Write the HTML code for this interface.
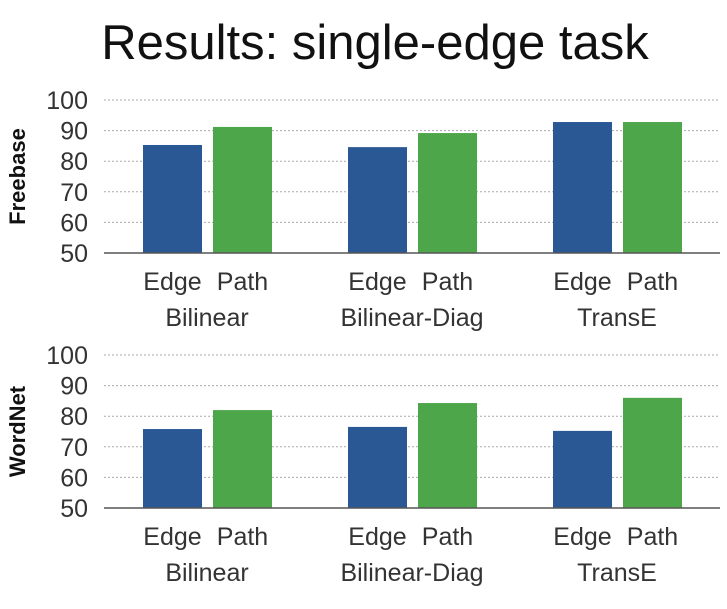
<!DOCTYPE html>
<html><head><meta charset="utf-8"><style>
body{margin:0;background:#fff;width:727px;height:604px;overflow:hidden}
svg text{font-family:"Liberation Sans",sans-serif}
</style></head><body>
<svg width="727" height="604">
<text x="375" y="59" font-size="49" text-anchor="middle" fill="#111">Results: single-edge task</text>
<g id="root"></g>
</svg>
<script>
const groups = ["Bilinear","Bilinear-Diag","TransE"];
const seriesNames = ["Edge","Path"];
const freebaseEdge = [85.3, 84.6, 92.8];
const freebasePath = [91.2, 89.2, 92.8];
const wordnetEdge = [75.8, 76.5, 75.2];
const wordnetPath = [82.0, 84.3, 86.0];
const yTicks = [50,60,70,80,90,100];
const colors = ["#2a5894","#4ea64a"];
const ns="http://www.w3.org/2000/svg";
const root=document.getElementById('root');
function mk(tag,attrs,parent){const e=document.createElementNS(ns,tag);for(const k in attrs)e.setAttribute(k,attrs[k]);(parent||root).appendChild(e);return e;}
const groupX=[143,348,553];
function panel(name,label,base,edge,path){
  const g=mk('g',{});
  
  
  const y=v=>base-(v-50)*3.06;
  yTicks.forEach(t=>{
    if(t>50){const l=mk('line',{x1:104,x2:720,y1:y(t),y2:y(t),stroke:'#aaa','stroke-width':1,'stroke-dasharray':'2,2'},g);
    
    }
    const tx=mk('text',{x:88,y:y(t)+9,'font-size':25,'text-anchor':'end',fill:'#333'},g);tx.textContent=t;
    
    
  });
  const yl=mk('text',{transform:`translate(25,${y(75)}) rotate(-90)`,'font-size':22,'font-weight':'bold','text-anchor':'middle',fill:'#111'},g);yl.textContent=label;
  
  
  groups.forEach((gr,i)=>{
    [edge,path].forEach((arr,s)=>{
      const x=groupX[i]+s*70;
      const r=mk('rect',{x:x,y:y(arr[i]),width:59,height:base-y(arr[i]),fill:colors[s]},g);
      
      
      const t=mk('text',{x:x+29.5,y:base+37,'font-size':25,'text-anchor':'middle',fill:'#333'},g);t.textContent=seriesNames[s];
      
      
    });
    const gl=mk('text',{x:groupX[i]+64,y:base+73,'font-size':25,'text-anchor':'middle',fill:'#333'},g);gl.textContent=gr;
    
    
  });
  const ax=mk('line',{x1:104,x2:720,y1:base,y2:base,stroke:'#555','stroke-width':1.5},g);
  
  
}
panel('freebase','Freebase',253,freebaseEdge,freebasePath);
panel('wordnet','WordNet',508,wordnetEdge,wordnetPath);
</script>
</body></html>
